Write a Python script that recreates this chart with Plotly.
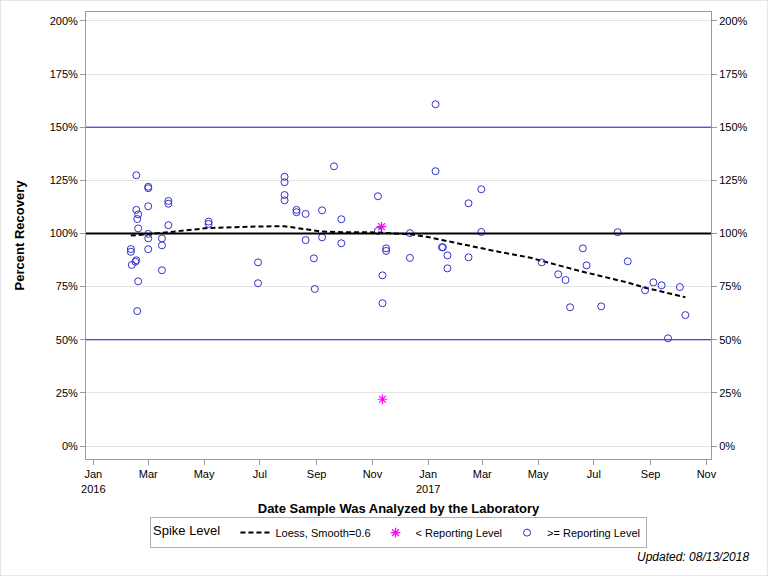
import plotly.graph_objects as go

# ---- data ----
ge_dates = [
    "2016-02-11", "2016-02-11", "2016-02-12", "2016-02-16", "2016-02-17", "2016-02-17",
    "2016-02-17", "2016-02-18", "2016-02-18", "2016-02-19", "2016-02-19", "2016-02-19",
    "2016-03-01", "2016-03-01", "2016-03-01", "2016-03-01", "2016-03-01", "2016-03-01",
    "2016-03-16", "2016-03-16", "2016-03-16", "2016-03-23", "2016-03-23", "2016-03-23",
    "2016-05-06", "2016-05-06", "2016-06-29", "2016-06-29", "2016-07-28", "2016-07-28",
    "2016-07-28", "2016-07-28", "2016-08-10", "2016-08-10", "2016-08-20", "2016-08-20",
    "2016-08-29", "2016-08-30", "2016-09-07", "2016-09-07", "2016-09-20", "2016-09-28",
    "2016-09-28", "2016-11-07", "2016-11-07", "2016-11-12", "2016-11-12", "2016-11-16",
    "2016-11-16", "2016-12-12", "2016-12-12", "2017-01-09", "2017-01-09", "2017-01-16",
    "2017-01-17", "2017-01-22", "2017-01-22", "2017-02-14", "2017-02-14", "2017-02-28",
    "2017-02-28", "2017-05-05", "2017-05-23", "2017-05-31", "2017-06-05", "2017-06-19",
    "2017-06-23", "2017-07-09", "2017-07-27", "2017-08-07", "2017-08-26", "2017-09-04",
    "2017-09-13", "2017-09-20", "2017-10-03", "2017-10-09",
]
ge_values = [
    92.7, 91.4, 85.2, 86.7, 127.4, 111.1,
    87.4, 106.8, 63.5, 109.0, 102.4, 77.5,
    122.0, 121.3, 112.8, 99.8, 97.7, 92.6,
    97.7, 94.4, 82.7, 115.3, 114.0, 103.9,
    105.6, 104.5, 86.4, 76.6, 126.7, 124.1,
    118.1, 115.6, 111.1, 110.0, 109.2, 96.9,
    88.3, 73.9, 110.9, 98.2, 131.6, 106.7,
    95.4, 117.5, 101.2, 80.3, 67.2, 93.0,
    91.8, 100.2, 88.5, 160.8, 129.3, 93.5,
    93.5, 89.7, 83.6, 114.2, 88.8, 120.8,
    100.7, 86.4, 80.8, 78.1, 65.3, 93.0,
    85.0, 65.7, 100.6, 86.9, 73.3, 77.0,
    75.6, 50.7, 74.8, 61.6,
]

lt_dates = ["2016-11-11", "2016-11-12"]
lt_values = [103.2, 22.0]

loess_dates = [
    "2016-02-11", "2016-03-01", "2016-03-23", "2016-05-06", "2016-06-01", "2016-06-29",
    "2016-07-28", "2016-08-20", "2016-09-07", "2016-09-28", "2016-11-07", "2016-12-12",
    "2017-01-01", "2017-01-16", "2017-02-14", "2017-02-28", "2017-03-20", "2017-04-23",
    "2017-05-05", "2017-06-19", "2017-08-07", "2017-08-26", "2017-10-09",
]
loess_values = [
    99.0, 99.9, 100.6, 102.6, 103.0, 103.3,
    103.4, 102.0, 100.9, 100.6, 100.5, 99.6,
    98.3, 96.9, 94.2, 93.0, 91.3, 88.6,
    87.1, 82.0, 76.9, 74.5, 70.0,
]

x_tickvals = ["2016-01-01", "2016-03-01", "2016-05-01", "2016-07-01", "2016-09-01", "2016-11-01",
              "2017-01-01", "2017-03-01", "2017-05-01", "2017-07-01", "2017-09-01", "2017-11-01"]
x_ticktext = ["Jan<br>2016", "Mar", "May", "Jul", "Sep", "Nov",
              "Jan<br>2017", "Mar", "May", "Jul", "Sep", "Nov"]
y_tickvals = [0, 25, 50, 75, 100, 125, 150, 175, 200]
y_ticktext = ["0%", "25%", "50%", "75%", "100%", "125%", "150%", "175%", "200%"]

FONT = "Liberation Sans, Arial, sans-serif"
BLUE = "#3333CC"
LINEBLUE = "#1a1acc"
AXIS = "#9a9a9a"

fig = go.Figure()

fig.add_trace(go.Scatter(
    x=loess_dates, y=loess_values, mode="lines",
    name="Loess, Smooth=0.6",
    line=dict(color="black", width=2, dash="5px,3px"),
))
fig.add_trace(go.Scatter(
    x=lt_dates, y=lt_values, mode="markers",
    name="< Reporting Level",
    marker=dict(symbol="asterisk-open", size=8, color="#FF00FF",
                line=dict(color="#FF00FF", width=1.2)),
))
fig.add_trace(go.Scatter(
    x=ge_dates, y=ge_values, mode="markers",
    name=">= Reporting Level",
    marker=dict(symbol="circle-open", size=7, color=BLUE,
                line=dict(color=BLUE, width=1)),
))
# invisible trace to activate the right-hand axis
fig.add_trace(go.Scatter(x=[ge_dates[0]], y=[None], yaxis="y2",
                         showlegend=False, hoverinfo="skip", mode="markers"))

# reference lines
for val, col, w in [(150, LINEBLUE, 1), (50, LINEBLUE, 1), (100, "black", 2)]:
    fig.add_shape(type="line", xref="paper", x0=0, x1=1, yref="y", y0=val, y1=val,
                  line=dict(color=col, width=w), layer="above")

yrange = [-6.1, 204.2]

fig.update_layout(
    width=768, height=576,
    paper_bgcolor="white", plot_bgcolor="white",
    margin=dict(l=86, r=57, t=12, b=117),
    font=dict(family=FONT, size=11, color="black"),
    showlegend=True,
    xaxis=dict(
        range=["2015-12-24", "2017-11-06"], type="date",
        tickvals=x_tickvals, ticktext=x_ticktext,
        ticks="outside", ticklen=5, tickcolor=AXIS,
        showline=True, linecolor=AXIS, mirror=True,
        showgrid=False, zeroline=False,
        tickfont=dict(size=11, family=FONT),
        title=dict(text="<b>Date Sample Was Analyzed by the Laboratory</b>",
                   font=dict(size=13, family=FONT), standoff=10),
    ),
    yaxis=dict(
        range=yrange, tickvals=y_tickvals, ticktext=y_ticktext,
        ticks="outside", ticklen=5, tickcolor=AXIS,
        showline=True, linecolor=AXIS, mirror=True,
        showgrid=True, gridcolor="#e3e3e3", gridwidth=1, zeroline=False,
        tickfont=dict(size=11, family=FONT),
        title=dict(text="<b>Percent Recovery</b>", font=dict(size=13, family=FONT), standoff=22),
    ),
    yaxis2=dict(
        range=yrange, overlaying="y", side="right", anchor="x",
        tickvals=y_tickvals, ticktext=y_ticktext,
        ticks="outside", ticklen=5, tickcolor=AXIS,
        showline=False, showgrid=False, zeroline=False,
        tickfont=dict(size=11, family=FONT),
    ),
    legend=dict(
        orientation="h", x=0.5, xanchor="center", y=-0.13, yanchor="top",
        bordercolor="#b0b0b0", borderwidth=1, bgcolor="white",
        font=dict(size=11, family=FONT),
        title=dict(text="Spike Level  ", side="left", font=dict(size=13, family=FONT)),
        itemwidth=30, tracegroupgap=0,
    ),
)

fig.add_annotation(
    text="<i>Updated: 08/13/2018</i>", xref="paper", yref="paper",
    x=1.0, xanchor="right", y=-0.2, yanchor="top",
    xshift=40, showarrow=False, font=dict(size=12, family=FONT),
)
# light frame around the whole image
fig.add_shape(type="rect", xref="paper", yref="paper",
              x0=-86/625, x1=1+57/625, y0=-117/447, y1=1+12/447,
              line=dict(color="#d0d0d0", width=1), layer="below")

fig.write_html("out.html")
